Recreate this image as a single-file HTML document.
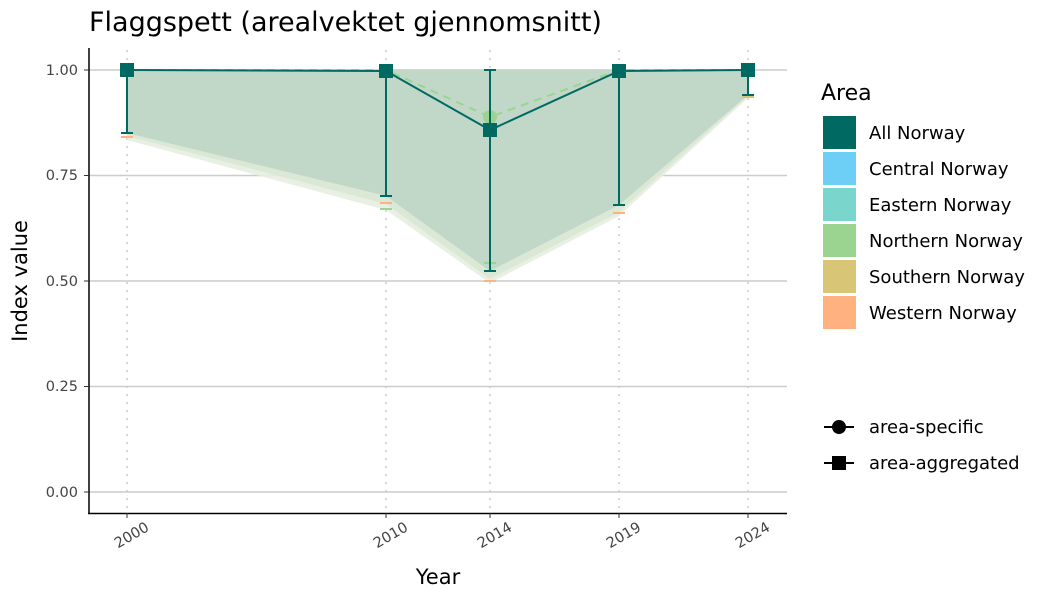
<!DOCTYPE html>
<html><head><meta charset="utf-8"><style>body{margin:0;background:#fff}svg{display:block;font-family:"DejaVu Sans","Liberation Sans",sans-serif}</style></head><body>
<svg width="1050" height="600" viewBox="0 0 1050 600">
<text x="89" y="31" font-size="27" fill="#000">Flaggspett (arealvektet gjennomsnitt)</text>
<g stroke="#cccccc" stroke-width="1.5">
<line x1="89" x2="787" y1="70" y2="70"/><line x1="89" x2="787" y1="175.5" y2="175.5"/><line x1="89" x2="787" y1="281" y2="281"/><line x1="89" x2="787" y1="386.5" y2="386.5"/><line x1="89" x2="787" y1="492" y2="492"/>
</g>
<g stroke="#cccccc" stroke-width="1.5" stroke-dasharray="2,6">
<line x1="127" x2="127" y1="50" y2="513"/><line x1="386" x2="386" y1="50" y2="513"/><line x1="490" x2="490" y1="50" y2="513"/><line x1="619" x2="619" y1="50" y2="513"/><line x1="748" x2="748" y1="50" y2="513"/>
</g>
<polygon points="127,70 748,70 748,98 619,216 490,283 386,210 127,140" fill="#e6ede0" opacity="0.9"/>
<polygon points="127,70 748,70 748,96 619,212 490,279 386,204 127,136" fill="#dce8d6"/>
<polygon points="127,70 748,70 748,95 619,205 490,271 386,196 127,133" fill="#c1d8c9"/>
<polyline points="127,70 386,70 490,117 619,70 748,70" fill="none" stroke="#9bd491" stroke-width="2" stroke-dasharray="8,6"/>
<g stroke-width="2">
<line x1="121" x2="133" y1="137" y2="137" stroke="#ffb27f"/>
<line x1="380" x2="392" y1="203" y2="203" stroke="#ffb27f"/><line x1="380" x2="392" y1="209" y2="209" stroke="#9bd491"/>
<line x1="484" x2="496" y1="263" y2="263" stroke="#9bd491"/><line x1="484" x2="496" y1="281" y2="281" stroke="#ffb27f"/>
<line x1="613" x2="625" y1="213" y2="213" stroke="#ffb27f"/><line x1="742" x2="754" y1="97" y2="97" stroke="#d9c576"/>
</g>
<circle cx="490" cy="117" r="7" fill="#9bd491"/>
<g stroke="#006a62" stroke-width="2" fill="none">
<polyline points="127,70 386,71 490,130 619,71 748,70"/>
<path d="M127,70V133M121,133H133M386,71V196M380,196H392M490,70V271M484,70H496M484,271H496M619,71V205M613,205H625M748,70V95M742,95H754"/>
</g>
<g fill="#006a62">
<rect x="120" y="63" width="14" height="14"/><rect x="379" y="64" width="14" height="14"/><rect x="483" y="123" width="14" height="14"/><rect x="612" y="64" width="14" height="14"/><rect x="741" y="63" width="14" height="14"/>
</g>
<line x1="89" x2="89" y1="48" y2="514" stroke="#000" stroke-width="1.5"/>
<line x1="88" x2="787" y1="513.5" y2="513.5" stroke="#000" stroke-width="1.5"/>
<g font-size="14.5" fill="#444" text-anchor="end">
<text x="78" y="75">1.00</text><text x="78" y="180">0.75</text><text x="78" y="286">0.50</text><text x="78" y="391">0.25</text><text x="78" y="497">0.00</text>
</g>
<g stroke="#333"><line x1="84" x2="89" y1="70" y2="70"/><line x1="84" x2="89" y1="175.5" y2="175.5"/><line x1="84" x2="89" y1="281" y2="281"/><line x1="84" x2="89" y1="386.5" y2="386.5"/><line x1="84" x2="89" y1="492" y2="492"/>
<line x1="127" x2="127" y1="513" y2="518"/><line x1="386" x2="386" y1="513" y2="518"/><line x1="490" x2="490" y1="513" y2="518"/><line x1="619" x2="619" y1="513" y2="518"/><line x1="748" x2="748" y1="513" y2="518"/></g>
<g font-size="14.5" fill="#444" text-anchor="end">
<text transform="translate(150,530) rotate(-30)">2000</text>
<text transform="translate(409,530) rotate(-30)">2010</text>
<text transform="translate(513,530) rotate(-30)">2014</text>
<text transform="translate(642,530) rotate(-30)">2019</text>
<text transform="translate(771,530) rotate(-30)">2024</text>
</g>
<text x="438" y="584" font-size="21" text-anchor="middle">Year</text>
<text transform="translate(27,281) rotate(-90)" font-size="21" text-anchor="middle">Index value</text>
<text x="821" y="100" font-size="22">Area</text>
<g font-size="18" fill="#000">
<rect x="823" y="116" width="33" height="33" fill="#006a62"/><text x="869" y="139">All Norway</text>
<rect x="823" y="152" width="33" height="33" fill="#6ecff6"/><text x="869" y="175">Central Norway</text>
<rect x="823" y="188" width="33" height="33" fill="#7ad6cc"/><text x="869" y="211">Eastern Norway</text>
<rect x="823" y="224" width="33" height="33" fill="#9bd491"/><text x="869" y="247">Northern Norway</text>
<rect x="823" y="260" width="33" height="33" fill="#d9c576"/><text x="869" y="283">Southern Norway</text>
<rect x="823" y="296" width="33" height="33" fill="#ffb27f"/><text x="869" y="319">Western Norway</text>
<line x1="824" x2="854" y1="427" y2="427" stroke="#000" stroke-width="2"/><circle cx="839" cy="427" r="7" fill="#000"/><text x="869" y="433">area-specific</text>
<line x1="824" x2="854" y1="463" y2="463" stroke="#000" stroke-width="2"/><rect x="832" y="456" width="14" height="14" fill="#000"/><text x="869" y="469">area-aggregated</text>
</g>
</svg>
</body></html>
